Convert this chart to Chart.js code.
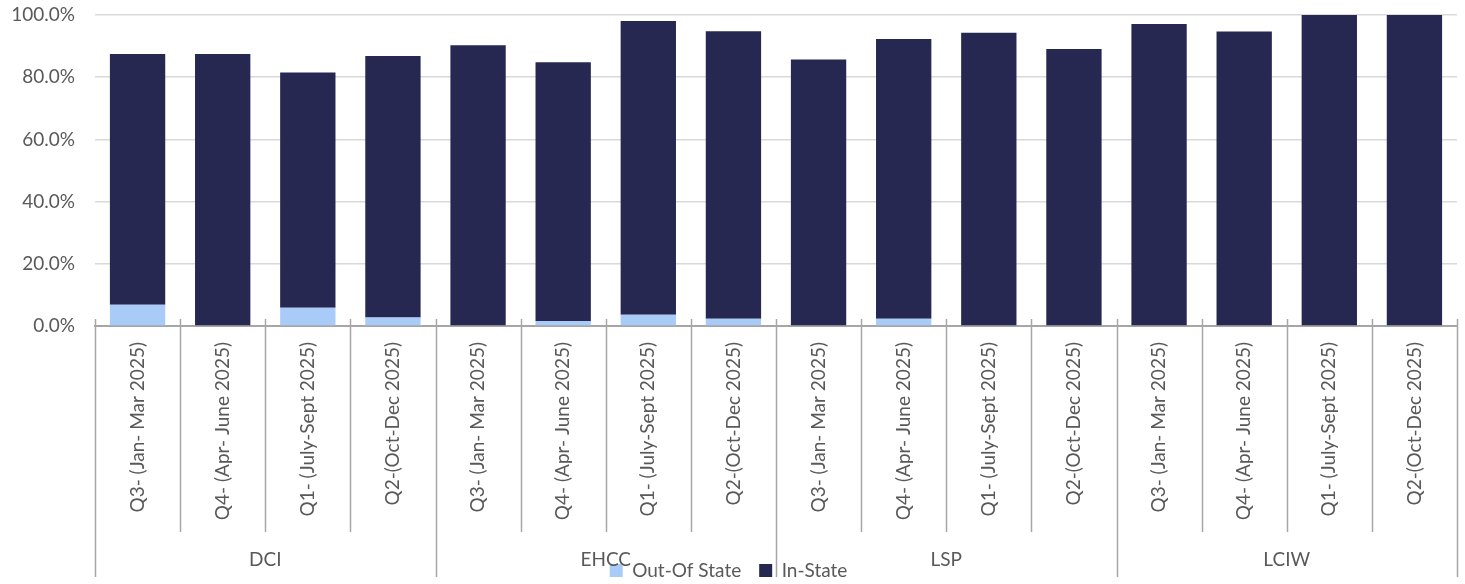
<!DOCTYPE html>
<html>
<head>
<meta charset="utf-8">
<script src="https://cdn.jsdelivr.net/npm/chart.js@4.4.1/dist/chart.umd.min.js"></script>
<style>
  html, body { margin: 0; padding: 0; background: #fff; }
  #wrap { width: 1465px; height: 584px; }
</style>
</head>
<body>
<div id="wrap"><canvas id="barChart"></canvas></div>
<script>
// facility groups and the quarter labels under each
var groups = ['DCI', 'EHCC', 'LSP', 'LCIW'];
var quarters = ['Q3- (Jan- Mar 2025)', 'Q4- (Apr- June 2025)', 'Q1- (July-Sept 2025)', 'Q2-(Oct-Dec 2025)'];

// percent values, 4 quarters per group
var outOfState = [6.8, 0, 5.9, 2.7,   0, 1.6, 3.6, 2.3,   0, 2.3, 0, 0,   0, 0, 0, 0];
var inState    = [80.7, 87.5, 75.6, 84.1,   90.3, 83.2, 94.5, 92.5,   85.7, 90.0, 94.3, 89.1,   97.1, 94.7, 100, 100];

var yMin = 0, yMax = 100, yStep = 20;

var labels = [];
for (var g = 0; g < groups.length; g++) {
  for (var q = 0; q < quarters.length; q++) labels.push(quarters[q]);
}

var textColor = '#595959';
var lineColor = '#a6a6a6';
var fontFam = 'Lato, "Open Sans", sans-serif';

// draws the cell lines and the facility names under the quarter labels
var groupAxis = {
  id: 'groupAxis',
  afterDraw: function(chart) {
    var ctx = chart.ctx;
    var x = chart.scales.x;
    var n = labels.length;
    var step = x.getPixelForValue(1) - x.getPixelForValue(0);
    var y0 = x.top - 7;
    ctx.save();
    ctx.strokeStyle = lineColor;
    ctx.lineWidth = 1.5;
    for (var i = 0; i <= n; i++) {
      var px = (i < n) ? x.getPixelForValue(i) - step / 2 : x.getPixelForValue(n - 1) + step / 2;
      var y1 = (i % quarters.length === 0) ? 577 : 532;
      ctx.beginPath();
      ctx.moveTo(Math.round(px) + 0.5, y0);
      ctx.lineTo(Math.round(px) + 0.5, y1);
      ctx.stroke();
    }
    ctx.fillStyle = textColor;
    ctx.font = '19px ' + fontFam;
    ctx.textAlign = 'center';
    ctx.textBaseline = 'middle';
    for (var g = 0; g < groups.length; g++) {
      var a = x.getPixelForValue(g * quarters.length);
      var b = x.getPixelForValue(g * quarters.length + quarters.length - 1);
      ctx.fillText(groups[g], (a + b) / 2, 560);
    }
    ctx.restore();
  }
};

var ctx = document.getElementById('barChart').getContext('2d');
var barChart = new Chart(ctx, {
  type: 'bar',
  data: {
    labels: labels,
    datasets: [{
      label: 'Out-Of State',
      data: outOfState,
      backgroundColor: '#a9cbf7'
    }, {
      label: 'In-State',
      data: inState,
      backgroundColor: '#262852'
    }]
  },
  options: {
    responsive: true,
    maintainAspectRatio: false,
    animation: false,
    layout: { padding: { top: 15, right: 8, left: 0, bottom: -6 } },
    datasets: { bar: { categoryPercentage: 1.0, barPercentage: 0.65 } },
    plugins: {
      legend: {
        position: 'bottom',
        labels: {
          color: textColor,
          font: { family: fontFam, size: 19 },
          boxWidth: 13,
          boxHeight: 13,
          padding: 18
        }
      },
      tooltip: { enabled: false }
    },
    scales: {
      x: {
        stacked: true,
        grid: { display: false },
        border: { display: true, color: lineColor, width: 2 },
        ticks: {
          color: textColor,
          font: { family: fontFam, size: 19 },
          maxRotation: 90,
          minRotation: 90,
          padding: 8,
          autoSkip: false
        },
        afterFit: function(scale) { scale.height = 217; }
      },
      y: {
        stacked: true,
        min: yMin,
        max: yMax,
        grid: { color: '#d9d9d9', lineWidth: 1.5, drawTicks: false },
        border: { display: false },
        ticks: {
          stepSize: yStep,
          color: textColor,
          font: { family: fontFam, size: 19 },
          padding: 20,
          callback: function(v) { return v.toFixed(1) + '%'; }
        },
        afterFit: function(scale) {
          scale.width = 95;
          scale.paddingTop = 0;
          scale.paddingBottom = 0;
        }
      }
    }
  },
  plugins: [groupAxis]
});
</script>
</body>
</html>
